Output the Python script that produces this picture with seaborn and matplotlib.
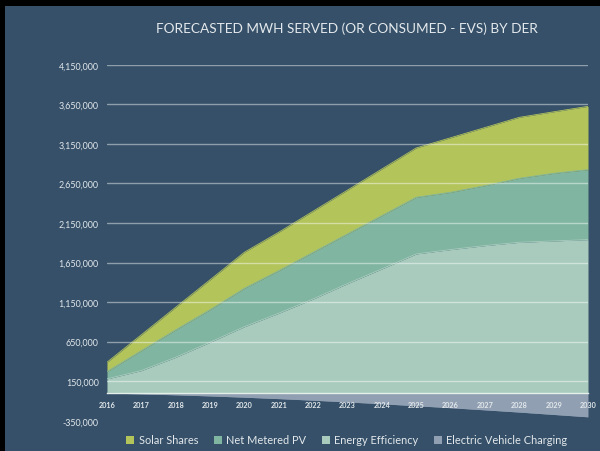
import numpy as np
import pandas as pd
import matplotlib
matplotlib.use("Agg")
import matplotlib.pyplot as plt
import seaborn as sns
from matplotlib.patches import Patch, Rectangle

# ---------------- data ----------------
years = list(range(2016, 2031))
solar_shares = [118000, 200000, 285000, 377000, 455000, 485000, 519000, 553000,
                589000, 623000, 689000, 734000, 770000, 777000, 800000]
net_metered_pv = [92000, 252000, 347000, 412000, 485000, 538000, 590000, 628000,
                  673000, 716000, 724000, 758000, 809000, 855000, 884000]
energy_efficiency = [180000, 285000, 453000, 643000, 840000, 1010000, 1190000, 1384000,
                     1570000, 1759000, 1814000, 1864000, 1906000, 1923000, 1940000]
ev_charging = [0, -10000, -22000, -36000, -52000, -70000, -90000, -112000,
               -135000, -160000, -185000, -212000, -240000, -270000, -300000]
series_names = ["Solar Shares", "Net Metered PV", "Energy Efficiency",
                "Electric Vehicle Charging"]
y_ticks = [-350000, 150000, 650000, 1150000, 1650000, 2150000, 2650000,
           3150000, 3650000, 4150000]
title = "FORECASTED MWH SERVED (OR CONSUMED - EVS) BY DER"

# ---------------- style ----------------
bg = "#355068"
colors = {
    "Solar Shares": "#b3c45b",
    "Net Metered PV": "#80b5a1",
    "Energy Efficiency": "#a9cbbe",
    "Electric Vehicle Charging": "#909fb2",
}
text_col = "#e3e8ec"

sns.set_theme(style="white")
plt.rcParams["font.family"] = ["Lato", "DejaVu Sans"]

df = pd.DataFrame({
    "year": years,
    "Energy Efficiency": energy_efficiency,
    "Net Metered PV": net_metered_pv,
    "Solar Shares": solar_shares,
    "Electric Vehicle Charging": ev_charging,
})
df["ee_top"] = df["Energy Efficiency"]
df["pv_top"] = df["ee_top"] + df["Net Metered PV"]
df["solar_top"] = df["pv_top"] + df["Solar Shares"]

fig = plt.figure(figsize=(6, 4.52), dpi=100, facecolor=bg)
ax = fig.add_axes([0.1783, 0.0668, 0.8017, 0.7878])
ax.set_facecolor(bg)

# filled areas
ax.fill_between(df["year"], 0, df["ee_top"], color=colors["Energy Efficiency"], lw=0, zorder=1)
ax.fill_between(df["year"], df["ee_top"], df["pv_top"], color=colors["Net Metered PV"], lw=0, zorder=1)
ax.fill_between(df["year"], df["pv_top"], df["solar_top"], color=colors["Solar Shares"], lw=0, zorder=1)
ax.fill_between(df["year"], 0, df["Electric Vehicle Charging"],
                color=colors["Electric Vehicle Charging"], lw=0, zorder=1)

# area edges via seaborn
edges = pd.DataFrame({
    "year": years * 4,
    "value": list(df["solar_top"]) + list(df["pv_top"]) + list(df["ee_top"]) + ev_charging,
    "series": [s for s in series_names for _ in years],
})
sns.lineplot(data=edges, x="year", y="value", hue="series", palette=colors,
             hue_order=series_names, linewidth=0.6, legend=False, ax=ax, zorder=1.5)

# spines first (set_position resets ticks)
for side in ["left", "right", "top"]:
    ax.spines[side].set_visible(False)
ax.spines["bottom"].set_position(("data", 0))
ax.spines["bottom"].set_color("#e4efea")
ax.spines["bottom"].set_linewidth(1.0)
ax.spines["bottom"].set_zorder(3)

ax.set_xlim(2016, 2030)
ax.set_ylim(-350000, 4150000)
ax.set_xlabel("")
ax.set_ylabel("")
ax.set_yticks(y_ticks)
ax.set_yticklabels([f"{v:,}" for v in y_ticks])
ax.set_xticks(years)
ax.set_xticklabels([str(y) for y in years])
ax.tick_params(axis="y", length=0, pad=6, labelsize=6.4, labelcolor=text_col)
ax.tick_params(axis="x", length=3, width=0.7, color="#dfe8e8", pad=2.5,
               direction="out", labelsize=5.2, labelcolor=text_col)
for lab in ax.get_xticklabels():
    lab.set_fontweight("bold")

ax.set_axisbelow(False)
ax.yaxis.grid(True, color="white", alpha=0.45, linewidth=1.0)
ax.xaxis.grid(False)
ax.yaxis.get_gridlines()[0].set_visible(False)

# title
fig.text(0.579, 1 - 29 / 452, title, ha="center", va="center", fontsize=9.8,
         color=text_col)

# legend
handles = [Patch(facecolor=colors[s], edgecolor="none") for s in series_names]
fig.legend(handles, series_names, loc="center", bbox_to_anchor=(0.578, 1 - 441 / 452),
           ncol=4, frameon=False, fontsize=7.9, handlelength=0.75, handleheight=0.75,
           handletextpad=0.4, columnspacing=1.4, labelcolor=text_col)

# black frame edges as in the reference image
fig.patches.append(Rectangle((0, 1 - 7 / 452), 1, 7 / 452, transform=fig.transFigure,
                             facecolor="black", edgecolor="none", zorder=10))
fig.patches.append(Rectangle((0, 0), 5 / 600, 1, transform=fig.transFigure,
                             facecolor="black", edgecolor="none", zorder=10))

fig.savefig("out.png", dpi=100, facecolor=bg)
